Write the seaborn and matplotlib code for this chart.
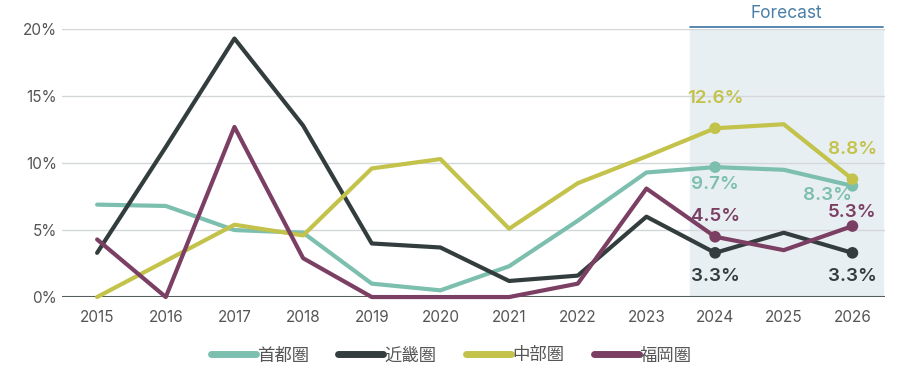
import pandas as pd
import matplotlib.pyplot as plt
import seaborn as sns

# 年次
years = list(range(2015, 2027))

# 各圏域の値 (%)
shuto = [6.9, 6.8, 5.0, 4.8, 1.0, 0.5, 2.3, 5.7, 9.3, 9.7, 9.5, 8.3]
kinki = [3.3, 11.2, 19.3, 12.8, 4.0, 3.7, 1.2, 1.6, 6.0, 3.3, 4.8, 3.3]
chubu = [0.0, 2.7, 5.4, 4.6, 9.6, 10.3, 5.1, 8.5, 10.5, 12.6, 12.9, 8.8]
fukuoka = [4.3, 0.0, 12.7, 2.9, 0.0, 0.0, 0.0, 1.0, 8.1, 4.5, 3.5, 5.3]

regions = ["首都圏", "近畿圏", "中部圏", "福岡圏"]
colors = ["#7dbfae", "#333d3d", "#c3c24a", "#7b3f63"]
y_ticks = [0, 5, 10, 15, 20]
marked_years = [2024, 2026]

df = pd.DataFrame({"year": years * 4,
                   "value": shuto + kinki + chubu + fukuoka,
                   "region": sum([[r] * len(years) for r in regions], [])})

sns.set_style("white")
plt.rcParams["font.family"] = ["Inter", "Noto Sans CJK JP", "DejaVu Sans"]

fig = plt.figure(figsize=(9, 3.69), dpi=100)
ax = fig.add_axes([0.069, 0.195, 0.914, 0.726])

# 予測期間の背景
ax.axvspan(2023.64, 2026.44, color="#e8eff3", zorder=0)
ax.plot([2023.64, 2026.44], [20.15, 20.15], color="#4a7fa8", lw=1.3, clip_on=False)
ax.text(2025.04, 20.5, "Forecast", color="#4a7fa8", ha="center", va="bottom", fontsize=12.5)

for t in y_ticks[1:]:
    ax.axhline(t, color="#d4d7da", lw=1, zorder=1)
ax.axhline(0, color="#555d5d", lw=1.5, zorder=1)

sns.lineplot(data=df, x="year", y="value", hue="region", palette=colors,
             linewidth=3, ax=ax, zorder=3, clip_on=False)

mk = df[df["year"].isin(marked_years)]
sns.scatterplot(data=mk, x="year", y="value", hue="region", palette=colors,
                s=70, edgecolor="none", ax=ax, zorder=4, legend=False, clip_on=False)

# 数値ラベル
def lab(x, y, dx, dy, c):
    ax.text(x + dx, y + dy, f"{y:.1f}%", color=c, ha="center", va="center",
            fontsize=13.5, fontweight="semibold", zorder=5)

lab(2024, chubu[9], 0, 2.2, colors[2])
lab(2026, chubu[11], 0, 2.2, colors[2])
lab(2024, shuto[9], 0, -1.3, colors[0])
lab(2026, shuto[11], -0.36, -0.7, colors[0])
lab(2024, fukuoka[9], 0, 1.5, colors[3])
lab(2026, fukuoka[11], 0, 1.0, colors[3])
lab(2024, kinki[9], 0, -1.8, colors[1])
lab(2026, kinki[11], 0, -1.8, colors[1])

ax.set_xlim(2014.49, 2026.47)
ax.set_ylim(0, 20)
ax.set_xticks(years)
ax.set_yticks(y_ticks)
ax.set_yticklabels([f"{t}%" for t in y_ticks])
ax.tick_params(axis="both", length=0, labelsize=11, labelcolor="#555555")
ax.tick_params(axis="x", pad=9)
ax.set_xlabel("")
ax.set_ylabel("")
sns.despine(ax=ax, left=True, bottom=True)

handles, labels = ax.get_legend_handles_labels()
for h in handles:
    h.set_linewidth(5)
ax.legend(handles, labels, loc="center", bbox_to_anchor=(0.473, -0.22),
          ncol=4, frameon=False, fontsize=12.5, handlelength=2.6,
          handletextpad=0.05, columnspacing=1.7, labelcolor="#555555")

fig.savefig("out.png", dpi=100)
